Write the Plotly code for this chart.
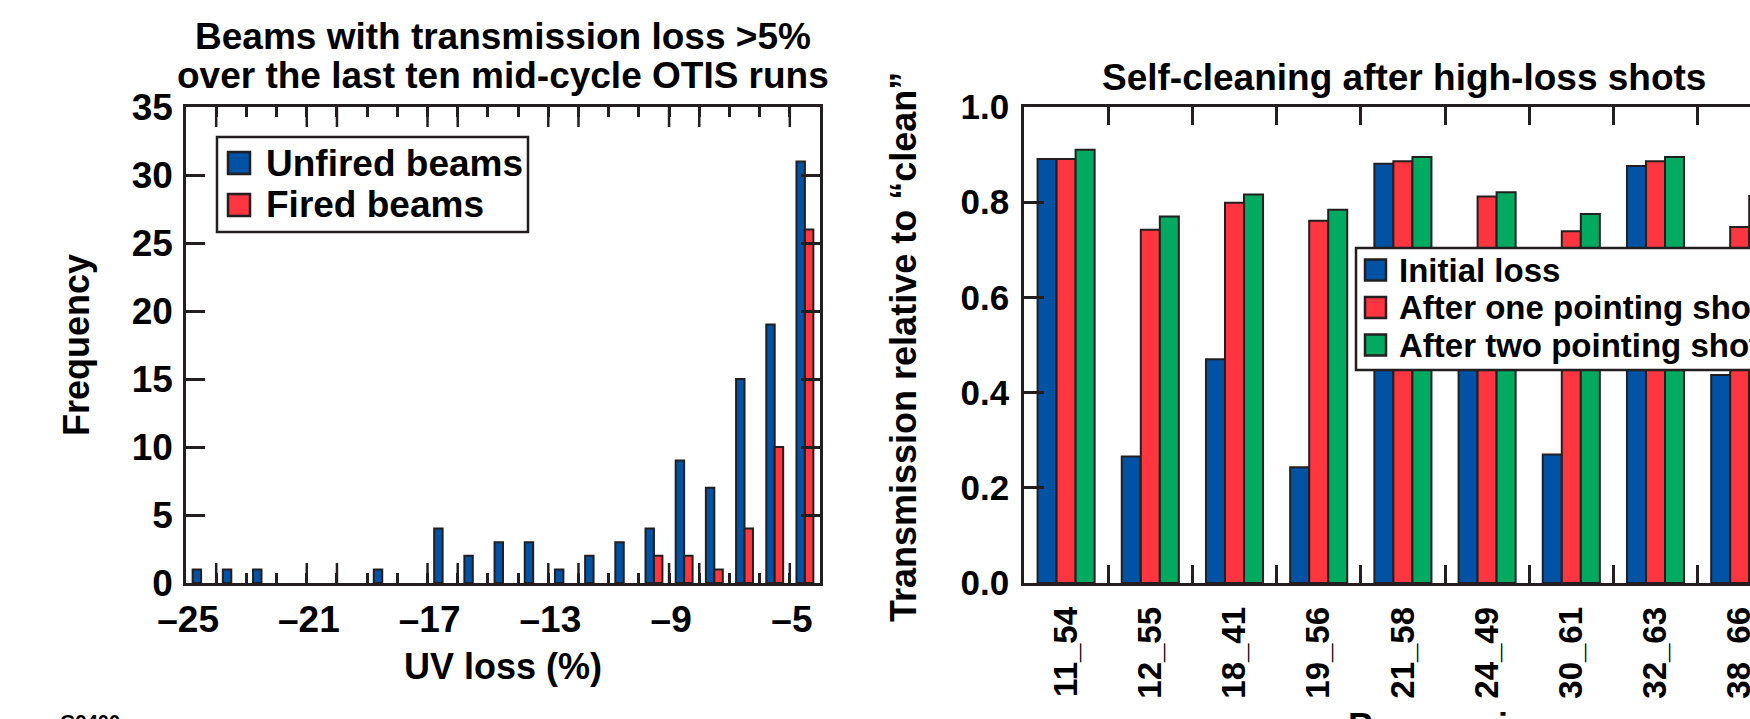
import plotly.graph_objects as go

W, H = 1750, 719
FONT = "Liberation Sans, Arial, Helvetica, sans-serif"
INK = "#231f20"
BLUE = "#0052a4"
RED = "#ff3640"
GREEN = "#00aa60"

# ---------------- Left chart data (histogram of UV loss) ----------------
uv_bins = [-25, -24, -23, -22, -21, -20, -19, -18, -17, -16, -15,
           -14, -13, -12, -11, -10, -9, -8, -7, -6, -5]
unfired_counts = [1, 1, 1, 0, 0, 0, 1, 0, 4, 2, 3,
                  3, 1, 2, 3, 4, 9, 7, 15, 19, 31]
fired_counts = [0, 0, 0, 0, 0, 0, 0, 0, 0, 0, 0,
                0, 0, 0, 0, 2, 2, 1, 4, 10, 26]
uv_label_vals = [-25, -21, -17, -13, -9, -5]
uv_label_text = ["\u201325", "\u201321", "\u201317", "\u201313", "\u20139", "\u20135"]
uv_long_ticks = [-24.5, -21.5, -20.5, -17.5, -16.5, -13.5, -12.5, -9.5, -8.5, -5.5]
left_series_names = ["Unfired beams", "Fired beams"]

# ---------------- Right chart data (self-cleaning) ----------------
beam_pairs = ["11_54", "12_55", "18_41", "19_56", "21_58", "24_49", "30_61", "32_63", "38_66"]
initial_loss = [0.891, 0.266, 0.470, 0.243, 0.881, 0.600, 0.270, 0.876, 0.437]
after_one_shot = [0.891, 0.742, 0.799, 0.761, 0.886, 0.812, 0.739, 0.886, 0.748]
after_two_shots = [0.910, 0.770, 0.816, 0.784, 0.895, 0.821, 0.775, 0.895, 0.813]
right_series_names = ["Initial loss", "After one pointing shot", "After two pointing shots"]
trans_ticks = [0.0, 0.2, 0.4, 0.6, 0.8, 1.0]


def fx(px):
    return px / W


def fy(py):
    return 1 - py / H


def bold(size):
    return dict(family=FONT, size=size, color="black", weight="bold")


def nonzero(vals):
    # empty bins are simply not drawn (no zero-height outline)
    return [v if v else None for v in vals]


bar_line = dict(color=INK, width=2)

fig = go.Figure()

# left bars
fig.add_trace(go.Bar(x=uv_bins, y=nonzero(unfired_counts), xaxis="x", yaxis="y",
                     width=0.28, offset=-0.28, marker=dict(color=BLUE, line=bar_line),
                     name=left_series_names[0], showlegend=False))
fig.add_trace(go.Bar(x=uv_bins, y=nonzero(fired_counts), xaxis="x", yaxis="y",
                     width=0.28, offset=0.0, marker=dict(color=RED, line=bar_line),
                     name=left_series_names[1], showlegend=False))

# right bars
bw = 0.226
for vals, col, off, nm in [(initial_loss, BLUE, -1.5 * bw, right_series_names[0]),
                           (after_one_shot, RED, -0.5 * bw, right_series_names[1]),
                           (after_two_shots, GREEN, 0.5 * bw, right_series_names[2])]:
    fig.add_trace(go.Bar(x=beam_pairs, y=vals, xaxis="x2", yaxis="y2",
                         width=bw, offset=off, marker=dict(color=col, line=bar_line),
                         name=nm, showlegend=False))

PLOT_TOP, PLOT_BOT = 107, 583
ydom = [fy(PLOT_BOT), fy(PLOT_TOP)]
left_dom = [fx(186), fx(820)]
right_dom = [fx(1024), 1.0]
px_per_cat = 84.2
right_range = [-0.5, -0.5 + (W - 1024) / px_per_cat]

axis_common = dict(showgrid=False, zeroline=False, showline=True, linewidth=2.5,
                   linecolor=INK, tickcolor=INK, tickwidth=2.5, ticks="inside")

fig.update_layout(
    width=W, height=H,
    margin=dict(l=0, r=0, t=0, b=0, autoexpand=False),
    paper_bgcolor="white", plot_bgcolor="white",
    barmode="group",
    xaxis=dict(domain=left_dom, anchor="y", range=[-25.5, -4.5],
               tickmode="array", tickvals=uv_label_vals, ticktext=uv_label_text,
               ticklen=0, mirror="allticks", tickfont=bold(37), ticklabelstandoff=2,
               ticklabelshift=-13,
               minor=dict(ticks="inside", ticklen=10, tickwidth=2.5, tickcolor=INK,
                          tickmode="linear", tick0=-24.5, dtick=1, showgrid=False),
               **axis_common),
    yaxis=dict(domain=ydom, anchor="x", range=[0, 35], tickmode="linear", tick0=0, dtick=5,
               ticklen=19, mirror="ticks", tickfont=bold(37), ticklabelstandoff=3,
               **axis_common),
    xaxis2=dict(domain=right_dom, anchor="y2", type="category", categoryorder="array",
                categoryarray=beam_pairs, range=right_range, tickson="boundaries",
                ticklen=18, mirror="ticks", tickangle=-90, tickfont=bold(33),
                ticklabelstandoff=8, **axis_common),
    yaxis2=dict(domain=ydom, anchor="x2", range=[0, 1.0], tickmode="array",
                tickvals=trans_ticks, tickformat=".1f", ticklen=20,
                tickfont=bold(35), ticklabelstandoff=5, **axis_common),
)

shapes = []
annotations = []

# long bin-edge ticks on the histogram (bottom and top, pointing inward)
long_len = 20 / (PLOT_BOT - PLOT_TOP)
for v in uv_long_ticks:
    for y0, y1 in [(0, long_len), (1 - long_len, 1)]:
        shapes.append(dict(type="line", xref="x", yref="y domain", x0=v, x1=v,
                           y0=y0, y1=y1, line=dict(color=INK, width=2.5), layer="above"))


def add_text(text, x, y, size, xanchor="center", yanchor="middle", angle=0):
    annotations.append(dict(text=text, x=fx(x), y=fy(y), xref="paper", yref="paper",
                            xanchor=xanchor, yanchor=yanchor, showarrow=False,
                            textangle=angle, font=bold(size)))


# titles
add_text("Beams with transmission loss >5%", 503, 36, 37)
add_text("over the last ten mid-cycle OTIS runs", 503, 76, 37)
add_text("Self-cleaning after high-loss shots", 1404, 78, 37)

# axis titles
add_text("UV loss (%)", 503, 666, 36)
add_text("Frequency", 76, 345, 36, angle=-90)
add_text("Transmission relative to \u201cclean\u201d", 903, 347, 36, angle=-90)
add_text("Beam pairs", 1445, 726, 36)
add_text("G9400", 58, 722, 20, xanchor="left")

# left legend (manual, large swatches)
shapes.append(dict(type="rect", xref="paper", yref="paper", x0=fx(217), x1=fx(528),
                   y0=fy(137), y1=fy(232), line=dict(color=INK, width=2.5),
                   fillcolor="white", layer="above"))
for i, (nm, col) in enumerate(zip(left_series_names, [BLUE, RED])):
    cy = 163 + 42 * i
    shapes.append(dict(type="rect", xref="paper", yref="paper", x0=fx(228), x1=fx(250),
                       y0=fy(cy - 11), y1=fy(cy + 11), line=dict(color=INK, width=2.5),
                       fillcolor=col, layer="above"))
    add_text(nm, 264, cy, 37, xanchor="left")

# right legend (manual, cut at the right edge like the reference)
shapes.append(dict(type="rect", xref="paper", yref="paper", x0=fx(1356), x1=fx(1850),
                   y0=fy(248), y1=fy(370), line=dict(color=INK, width=2.5),
                   fillcolor="white", layer="above"))
for i, (nm, col) in enumerate(zip(right_series_names, [BLUE, RED, GREEN])):
    cy = 270 + 37.5 * i
    shapes.append(dict(type="rect", xref="paper", yref="paper", x0=fx(1365), x1=fx(1386),
                       y0=fy(cy - 10.5), y1=fy(cy + 10.5), line=dict(color=INK, width=2.5),
                       fillcolor=col, layer="above"))
    add_text(nm, 1397, cy, 33, xanchor="left")

fig.update_layout(shapes=shapes, annotations=annotations)

fig.write_html("out.html")
